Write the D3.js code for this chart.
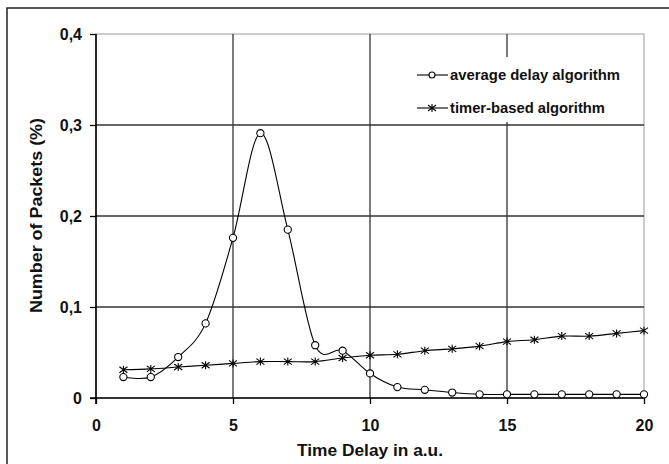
<!DOCTYPE html>
<html>
<head>
<meta charset="utf-8">
<script src="https://cdn.jsdelivr.net/npm/d3@7"></script>
<style>
  html, body { margin: 0; padding: 0; background: #fff; }
  svg { display: block; }
  text { font-family: "Liberation Sans", Arial, sans-serif; font-weight: bold; fill: #111; }
</style>
</head>
<body>
<svg id="chart" width="669" height="464"></svg>
<script>
const delays = [1,2,3,4,5,6,7,8,9,10,11,12,13,14,15,16,17,18,19,20];
const averageDelay = [0.023,0.023,0.045,0.082,0.176,0.291,0.185,0.058,0.052,0.027,0.012,0.009,0.006,0.004,0.004,0.004,0.004,0.004,0.004,0.004];
const timerBased = [0.031,0.032,0.034,0.036,0.038,0.040,0.040,0.040,0.044,0.047,0.048,0.052,0.054,0.057,0.062,0.064,0.068,0.068,0.071,0.074];
const xTicks = [0,5,10,15,20];
const yTicks = [0,0.1,0.2,0.3,0.4];
const seriesNames = ["average delay algorithm","timer-based algorithm"];
const xTitle = "Time Delay in a.u.";
const yTitle = "Number of Packets (%)";

const svg = d3.select("#chart");
const L = 96, R = 644, T = 34, B = 398;
const x = d3.scaleLinear().domain([0,20]).range([L,R]);
const y = d3.scaleLinear().domain([0,0.4]).range([B,T]);

// outer frame (extends beyond the picture on right/bottom)
svg.append("rect").attr("x",7).attr("y",8).attr("width",700).attr("height",500)
  .attr("fill","none").attr("stroke","#222").attr("stroke-width",1.5);

// plot frame
svg.append("rect").attr("x",L).attr("y",T).attr("width",R-L).attr("height",B-T)
  .attr("fill","none").attr("stroke","#999").attr("stroke-width",1);

// gridlines
svg.append("g").selectAll("line").data(yTicks.filter(d=>d>0 && d<0.4)).join("line")
  .attr("x1",L).attr("x2",R).attr("y1",d=>y(d)).attr("y2",d=>y(d))
  .attr("stroke","#333").attr("stroke-width",1.3);
svg.append("g").selectAll("line").data(xTicks.filter(d=>d>0 && d<20)).join("line")
  .attr("y1",T).attr("y2",B).attr("x1",d=>x(d)).attr("x2",d=>x(d))
  .attr("stroke","#333").attr("stroke-width",1.3);

// legend background (hides gridline behind)
svg.append("rect").attr("x",410).attr("y",57).attr("width",222).attr("height",65).attr("fill","#fff");

// axes
const fmt = d => d === 0 ? "0" : String(d).replace(".", ",");
const yAxis = svg.append("g").attr("transform",`translate(${L},0)`)
  .call(d3.axisLeft(y).tickValues(yTicks).tickFormat(fmt).tickSize(6).tickPadding(8));
const xAxis = svg.append("g").attr("transform",`translate(0,${B})`)
  .call(d3.axisBottom(x).tickValues(xTicks).tickFormat(d3.format("d")).tickSize(6).tickPadding(16));
[yAxis, xAxis].forEach(g => {
  g.select(".domain").attr("stroke","#000").attr("stroke-width",1.6);
  g.selectAll(".tick line").attr("stroke","#000").attr("stroke-width",1.3);
  g.selectAll(".tick text").attr("font-size",16).attr("font-family","Liberation Sans, Arial, sans-serif")
    .attr("font-weight","bold").attr("fill","#111");
});
yAxis.select(".domain").attr("d",`M0,${B+6}V${T}`);
xAxis.select(".domain").attr("d",`M0,0H${R}`).attr("transform",null);
xAxis.select(".domain").attr("d",`M${L-6},0H${R}`);

// series
const line = d3.line().x((d,i)=>x(delays[i])).y(d=>y(d)).curve(d3.curveCatmullRom.alpha(0));
svg.append("path").attr("d",line(averageDelay)).attr("fill","none").attr("stroke","#000").attr("stroke-width",1.1);
svg.append("path").attr("d",line(timerBased)).attr("fill","none").attr("stroke","#000").attr("stroke-width",1.1);

const starPath = "M-4,-3L4,3M-4,3L4,-3M0,-4L0,4";
svg.append("g").selectAll("path").data(timerBased).join("path")
  .attr("transform",(d,i)=>`translate(${x(delays[i])},${y(d)})`)
  .attr("d",starPath).attr("stroke","#000").attr("stroke-width",1.1).attr("fill","none");
svg.append("g").selectAll("circle").data(averageDelay).join("circle")
  .attr("cx",(d,i)=>x(delays[i])).attr("cy",d=>y(d)).attr("r",3.6)
  .attr("fill","#fff").attr("stroke","#000").attr("stroke-width",1.1);

// legend
const legY = [75,108];
const lg = svg.append("g");
lg.selectAll("line").data(legY).join("line")
  .attr("x1",417).attr("x2",448).attr("y1",d=>d).attr("y2",d=>d)
  .attr("stroke","#000").attr("stroke-width",1.1);
lg.append("circle").attr("cx",432).attr("cy",legY[0]).attr("r",3).attr("fill","#fff").attr("stroke","#000").attr("stroke-width",1.1);
lg.append("path").attr("transform",`translate(432,${legY[1]})`).attr("d",starPath).attr("stroke","#000").attr("stroke-width",1.1);
lg.selectAll("text").data(seriesNames).join("text")
  .attr("x",450).attr("y",(d,i)=>legY[i]).attr("dy","0.35em")
  .attr("font-size",15).attr("textLength",(d,i)=>i===0?170:155).attr("lengthAdjust","spacingAndGlyphs")
  .text(d=>d);

// titles
svg.append("text").attr("x",(L+R)/2).attr("y",456).attr("text-anchor","middle")
  .attr("font-size",17).attr("textLength",146).attr("lengthAdjust","spacingAndGlyphs").text(xTitle);
svg.append("text").attr("transform",`translate(42,${(118+313)/2}) rotate(-90)`).attr("text-anchor","middle")
  .attr("font-size",16).attr("textLength",195).attr("lengthAdjust","spacingAndGlyphs").text(yTitle);
</script>
</body>
</html>
